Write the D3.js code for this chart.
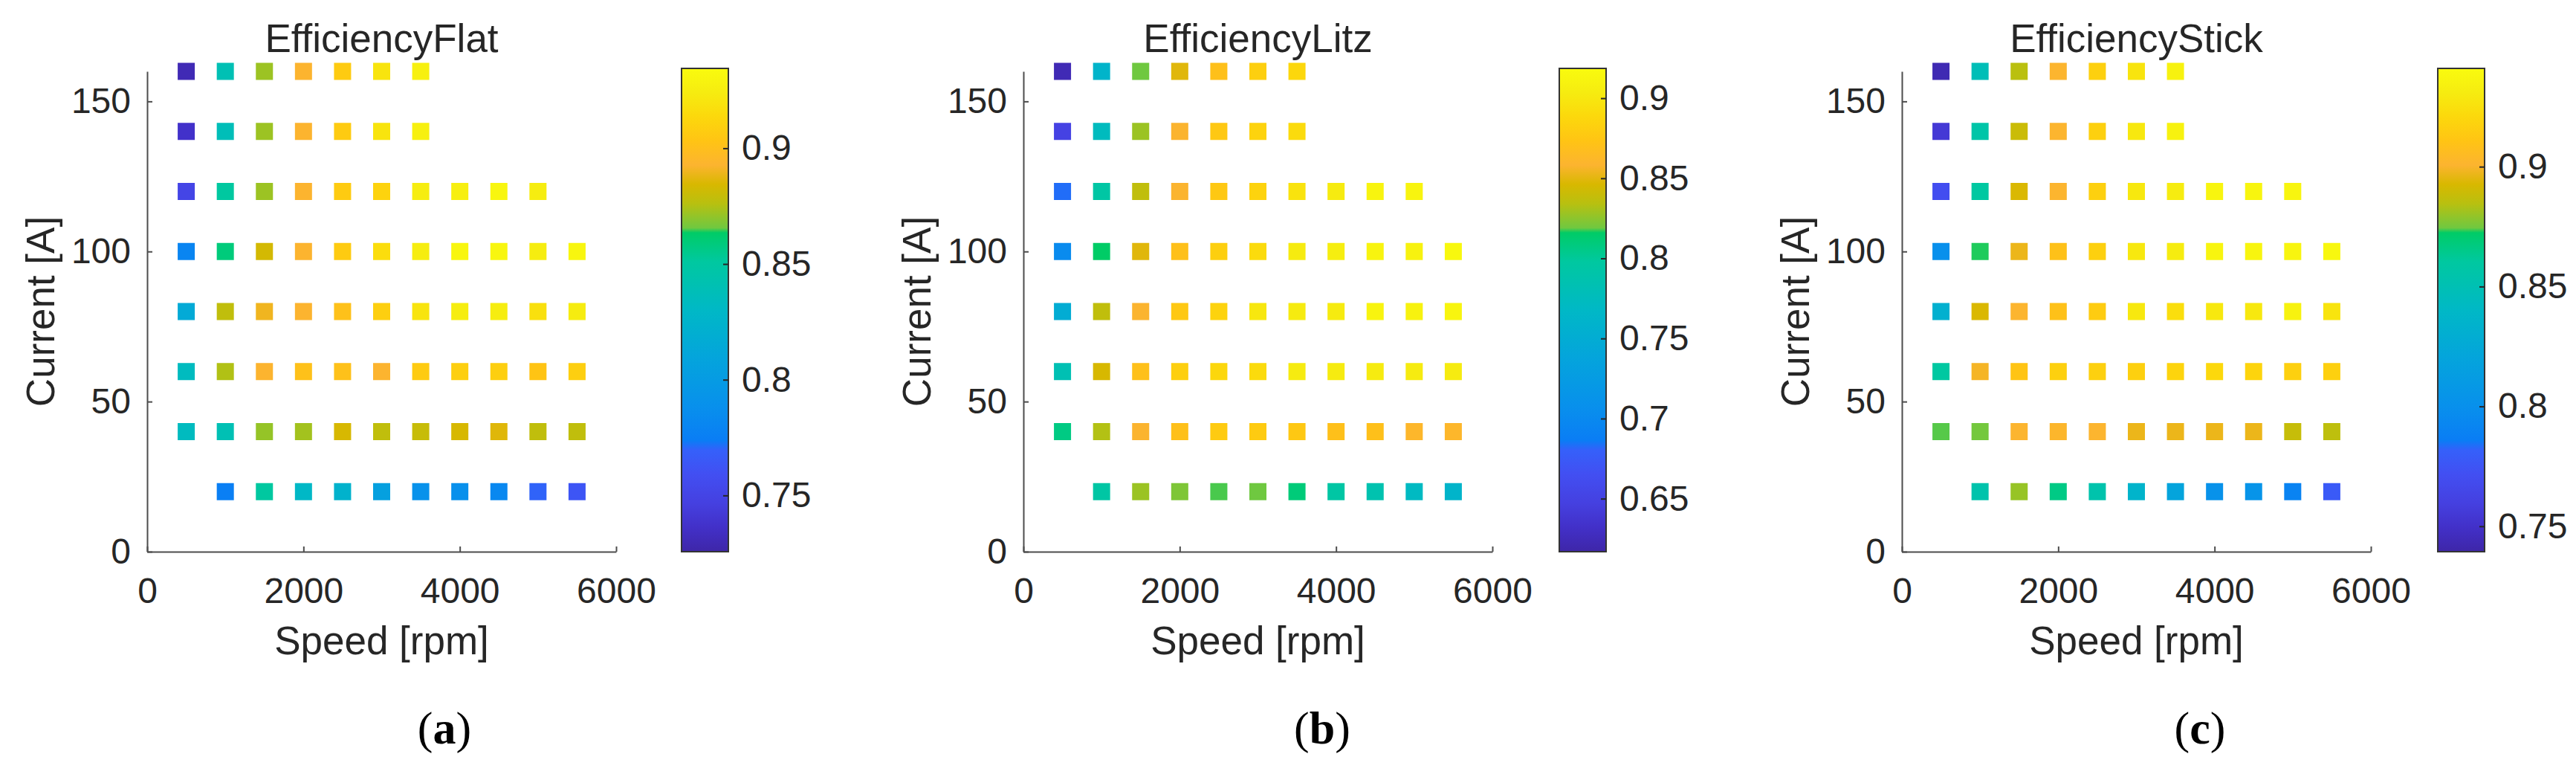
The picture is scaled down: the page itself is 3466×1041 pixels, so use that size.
<!DOCTYPE html>
<html>
<head>
<meta charset="utf-8">
<script src="https://cdn.jsdelivr.net/npm/d3@7"></script>
<style>
  body { margin: 0; background: #fff; }
  text { font-family: "Liberation Sans", Arial, Helvetica, sans-serif; fill: #262626; }
</style>
</head>
<body>
<div id="chart"></div>
<script>
// grid of operating points
var speeds = [500, 1000, 1500, 2000, 2500, 3000, 3500, 4000, 4500, 5000, 5500];
var currents = [160, 140, 120, 100, 80, 60, 40, 20];

var titles = ["EfficiencyFlat", "EfficiencyLitz", "EfficiencyStick"];
var panelTags = ["a", "b", "c"];

// efficiency per current row (same order as currents), null = no point
var effFlat = [
  [0.730, 0.840, 0.872, 0.893, 0.907, 0.920, 0.927, null, null, null, null],
  [0.737, 0.838, 0.872, 0.893, 0.907, 0.920, 0.927, null, null, null, null],
  [0.751, 0.851, 0.872, 0.893, 0.907, 0.911, 0.925, 0.926, 0.931, 0.925, null],
  [0.780, 0.859, 0.883, 0.893, 0.907, 0.916, 0.925, 0.931, 0.931, 0.925, 0.931],
  [0.815, 0.878, 0.890, 0.893, 0.901, 0.909, 0.920, 0.925, 0.925, 0.918, 0.924],
  [0.834, 0.875, 0.893, 0.901, 0.901, 0.893, 0.907, 0.909, 0.909, 0.903, 0.909],
  [0.834, 0.840, 0.871, 0.873, 0.884, 0.878, 0.880, 0.884, 0.886, 0.878, 0.878],
  [null, 0.775, 0.851, 0.830, 0.824, 0.805, 0.790, 0.788, 0.782, 0.770, 0.763]
];
var effLitz = [
  [0.623, 0.762, 0.819, 0.849, 0.870, 0.882, 0.888, null, null, null, null],
  [0.650, 0.774, 0.828, 0.858, 0.876, 0.885, 0.891, null, null, null, null],
  [0.683, 0.795, 0.837, 0.858, 0.876, 0.885, 0.897, 0.903, 0.912, 0.912, null],
  [0.702, 0.816, 0.849, 0.870, 0.882, 0.891, 0.903, 0.906, 0.912, 0.910, 0.916],
  [0.750, 0.837, 0.858, 0.876, 0.885, 0.900, 0.903, 0.903, 0.912, 0.910, 0.913],
  [0.783, 0.846, 0.870, 0.882, 0.888, 0.891, 0.903, 0.903, 0.903, 0.903, 0.903],
  [0.807, 0.833, 0.858, 0.870, 0.879, 0.879, 0.876, 0.870, 0.870, 0.861, 0.861],
  [null, 0.795, 0.828, 0.822, 0.818, 0.819, 0.810, 0.795, 0.786, 0.771, 0.762]
];
var effStick = [
  [0.743, 0.848, 0.885, 0.901, 0.917, 0.927, 0.935, null, null, null, null],
  [0.755, 0.856, 0.889, 0.901, 0.917, 0.929, 0.935, null, null, null, null],
  [0.770, 0.860, 0.893, 0.901, 0.917, 0.929, 0.931, 0.937, 0.937, 0.937, null],
  [0.800, 0.873, 0.897, 0.909, 0.917, 0.929, 0.931, 0.937, 0.937, 0.937, 0.938],
  [0.832, 0.893, 0.901, 0.909, 0.915, 0.929, 0.924, 0.929, 0.929, 0.935, 0.927],
  [0.860, 0.899, 0.911, 0.917, 0.917, 0.917, 0.919, 0.921, 0.919, 0.917, 0.917],
  [0.874, 0.875, 0.901, 0.902, 0.901, 0.897, 0.897, 0.897, 0.897, 0.888, 0.886],
  [null, 0.854, 0.880, 0.866, 0.854, 0.836, 0.820, 0.802, 0.804, 0.790, 0.778]
];
var allEff = [effFlat, effLitz, effStick];

// colour limits and colorbar ticks
var cbRanges = [[0.7257, 0.9345], [0.6169, 0.9186], [0.7394, 0.9410]];
var cbTicks = [[0.75, 0.8, 0.85, 0.9], [0.65, 0.7, 0.75, 0.8, 0.85, 0.9], [0.75, 0.8, 0.85, 0.9]];
var xTicks = [0, 2000, 4000, 6000];
var yTicks = [0, 50, 100, 150];

// parula-like colormap
var cmapPos = [0, 0.05, 0.10, 0.16, 0.21, 0.23, 0.30, 0.40, 0.50, 0.60, 0.66, 0.67, 0.72, 0.76, 0.80, 0.85, 0.90, 0.95, 1];
var cmapCol = ["#3e26a8", "#4230c8", "#4540e0", "#424ff2", "#3560fa", "#0a7df5", "#0890ec", "#04a4dc", "#00b8c6",
               "#00c8a0", "#00cc66", "#70c840", "#b8c010", "#d8b800", "#fcb430", "#ffc414", "#fcd80c", "#f6ec10", "#f9fb0e"];
var parula = d3.scaleLinear().domain(cmapPos).range(cmapCol).interpolate(d3.interpolateRgb).clamp(true);

var W = 3466, H = 1041;
var plotLeft = [198, 1377, 2559];
var plotW = 631, plotTop = 96, plotBottom = 742;
var cbLeft = [917, 2098, 3280];
var cbW = 63, cbTop = 92, cbBottom = 742;
var tagX = [598, 1779, 2960];
var sq = 23;

var svg = d3.select("#chart").append("svg")
  .attr("width", W)
  .attr("height", H);

var defs = svg.append("defs");
var grad = defs.append("linearGradient")
  .attr("id", "parulaGrad")
  .attr("x1", 0).attr("y1", 1).attr("x2", 0).attr("y2", 0);
grad.selectAll("stop")
  .data(cmapPos)
  .enter().append("stop")
    .attr("offset", function(d){ return d; })
    .attr("stop-color", function(d, i){ return cmapCol[i]; });

titles.forEach(function(title, p) {
  var x = d3.scaleLinear().domain([0, 6000]).range([plotLeft[p], plotLeft[p] + plotW]);
  var y = d3.scaleLinear().domain([0, 160]).range([plotBottom, plotTop]);
  var cRange = cbRanges[p];
  var color = function(v){ return parula((v - cRange[0]) / (cRange[1] - cRange[0])); };

  // flatten the grid
  var pts = [];
  allEff[p].forEach(function(row, i) {
    row.forEach(function(v, j) {
      if (v !== null) pts.push({ s: speeds[j], c: currents[i], v: v });
    });
  });

  var g = svg.append("g");

  g.selectAll("rect.pt")
    .data(pts)
    .enter().append("rect")
      .attr("class", "pt")
      .attr("x", function(d){ return x(d.s) - sq / 2; })
      .attr("y", function(d){ return y(d.c) - sq / 2; })
      .attr("width", sq)
      .attr("height", sq)
      .attr("fill", function(d){ return color(d.v); });

  // axes, ticks pointing inward like matlab
  var gx = g.append("g")
    .attr("transform", "translate(0," + plotBottom + ")")
    .call(d3.axisBottom(x).tickValues(xTicks).tickFormat(d3.format("d"))
      .tickSizeInner(-7).tickSizeOuter(0).tickPadding(35));
  var gy = g.append("g")
    .attr("transform", "translate(" + plotLeft[p] + ",0)")
    .call(d3.axisLeft(y).tickValues(yTicks).tickFormat(d3.format("d"))
      .tickSizeInner(-7).tickSizeOuter(0).tickPadding(22));
  [gx, gy].forEach(function(a) {
    a.select(".domain").attr("stroke", "#4d4d4d").attr("stroke-width", 2);
    a.selectAll(".tick line").attr("stroke", "#4d4d4d").attr("stroke-width", 2);
    a.selectAll(".tick text").attr("font-size", 48).attr("fill", "#262626")
      .style("font-family", "'Liberation Sans', Arial, sans-serif");
  });

  g.append("text")
    .attr("x", plotLeft[p] + plotW / 2)
    .attr("y", 70)
    .attr("text-anchor", "middle")
    .attr("font-size", 53)
    .text(title);

  g.append("text")
    .attr("x", plotLeft[p] + plotW / 2)
    .attr("y", 880)
    .attr("text-anchor", "middle")
    .attr("font-size", 53)
    .text("Speed [rpm]");

  g.append("text")
    .attr("transform", "translate(" + (plotLeft[p] - 125) + "," + ((plotTop + plotBottom) / 2) + ") rotate(-90)")
    .attr("text-anchor", "middle")
    .attr("font-size", 53)
    .text("Current [A]");

  // colorbar
  var cy = d3.scaleLinear().domain(cRange).range([cbBottom, cbTop]);
  g.append("rect")
    .attr("x", cbLeft[p]).attr("y", cbTop)
    .attr("width", cbW).attr("height", cbBottom - cbTop)
    .attr("fill", "url(#parulaGrad)")
    .attr("stroke", "#333").attr("stroke-width", 2);
  var gc = g.append("g")
    .attr("transform", "translate(" + (cbLeft[p] + cbW) + ",0)")
    .call(d3.axisRight(cy).tickValues(cbTicks[p]).tickFormat(function(d){ return String(d); })
      .tickSizeInner(-7).tickSizeOuter(0).tickPadding(18));
  gc.select(".domain").remove();
  gc.selectAll(".tick line").attr("stroke", "#262626").attr("stroke-width", 2);
  gc.selectAll(".tick text").attr("font-size", 48).attr("fill", "#262626")
    .style("font-family", "'Liberation Sans', Arial, sans-serif");

  // sub-figure tag
  var tag = g.append("text")
    .attr("x", tagX[p])
    .attr("y", 1000)
    .attr("text-anchor", "middle")
    .attr("font-size", 62)
    .style("font-family", "'Liberation Serif', 'Times New Roman', serif")
    .style("fill", "#000");
  tag.append("tspan").text("(");
  tag.append("tspan").attr("font-weight", "bold").text(panelTags[p]);
  tag.append("tspan").text(")");
});
</script>
</body>
</html>
